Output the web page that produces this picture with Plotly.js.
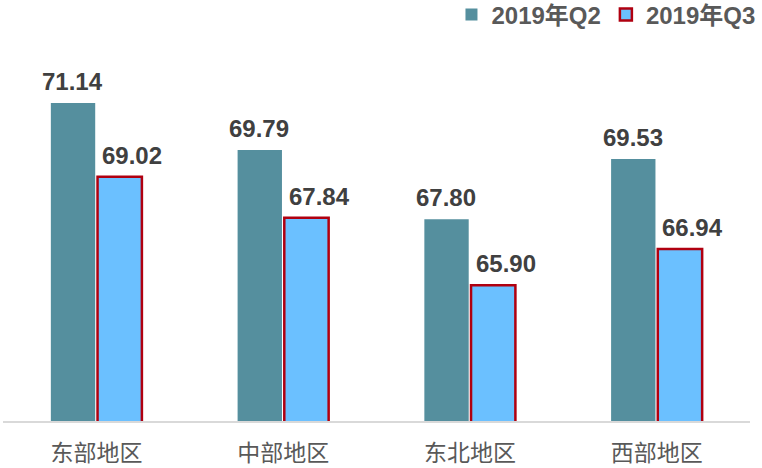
<!DOCTYPE html>
<html>
<head>
<meta charset="utf-8">
<script src="https://cdn.plot.ly/plotly-3.0.1.min.js"></script>
<style>html,body{margin:0;padding:0;background:#fff;}#chart{width:762px;height:468px;}</style>
</head>
<body>
<div id="chart"></div>
<script>
var categories = ["东部地区", "中部地区", "东北地区", "西部地区"];
var seriesNames = ["2019年Q2", "2019年Q3"];
var q2Values = [71.14, 69.79, 67.80, 69.53];
var q3Values = [69.02, 67.84, 65.90, 66.94];

var traces = [
  {
    type: "bar", name: seriesNames[0], x: categories, y: q2Values,
    marker: {color: "#558F9E", line: {width: 0}},
    hoverinfo: "none"
  },
  {
    type: "bar", name: seriesNames[1], x: categories, y: q3Values,
    marker: {color: "#6BC0FF", line: {color: "#B00010", width: 2.5}},
    hoverinfo: "none"
  }
];

var annotations = [];
function addLabels(vals, shift) {
  for (var i = 0; i < categories.length; i++) {
    annotations.push({
      x: categories[i], y: vals[i], xref: "x", yref: "y",
      text: vals[i].toFixed(2), showarrow: false,
      xanchor: "center", yanchor: "bottom", xshift: shift, yshift: 6,
      font: {family: "Liberation Sans, Arial, sans-serif", size: 24, color: "#404040", weight: "bold"}
    });
  }
}
addLabels(q2Values, -24);
addLabels(q3Values, 36);

var layout = {
  width: 762, height: 468,
  margin: {l: 3, r: 12, t: 73, b: 47, autoexpand: false},
  paper_bgcolor: "#ffffff", plot_bgcolor: "#ffffff",
  barmode: "group", bargap: 0.5, bargroupgap: 0.05,
  showlegend: true,
  legend: {
    orientation: "h", xref: "container", yref: "container",
    x: 0.998, xanchor: "right", y: 0.968, yanchor: "middle",
    font: {family: "Liberation Sans, Noto Sans CJK SC, sans-serif", size: 24, color: "#595959", weight: "bold"},
    itemwidth: 30, bgcolor: "rgba(0,0,0,0)"
  },
  xaxis: {
    type: "category", showline: true, linecolor: "#D9D9D9", linewidth: 2,
    ticks: "", showgrid: false, zeroline: false,
    ticklabelstandoff: 10,
    tickfont: {family: "Noto Sans CJK SC, sans-serif", size: 23, color: "#595959"}
  },
  yaxis: {
    range: [62, 72], visible: false, showgrid: false, zeroline: false, fixedrange: true
  },
  annotations: annotations
};

Plotly.newPlot("chart", traces, layout, {displayModeBar: false, staticPlot: true});
</script>
</body>
</html>
